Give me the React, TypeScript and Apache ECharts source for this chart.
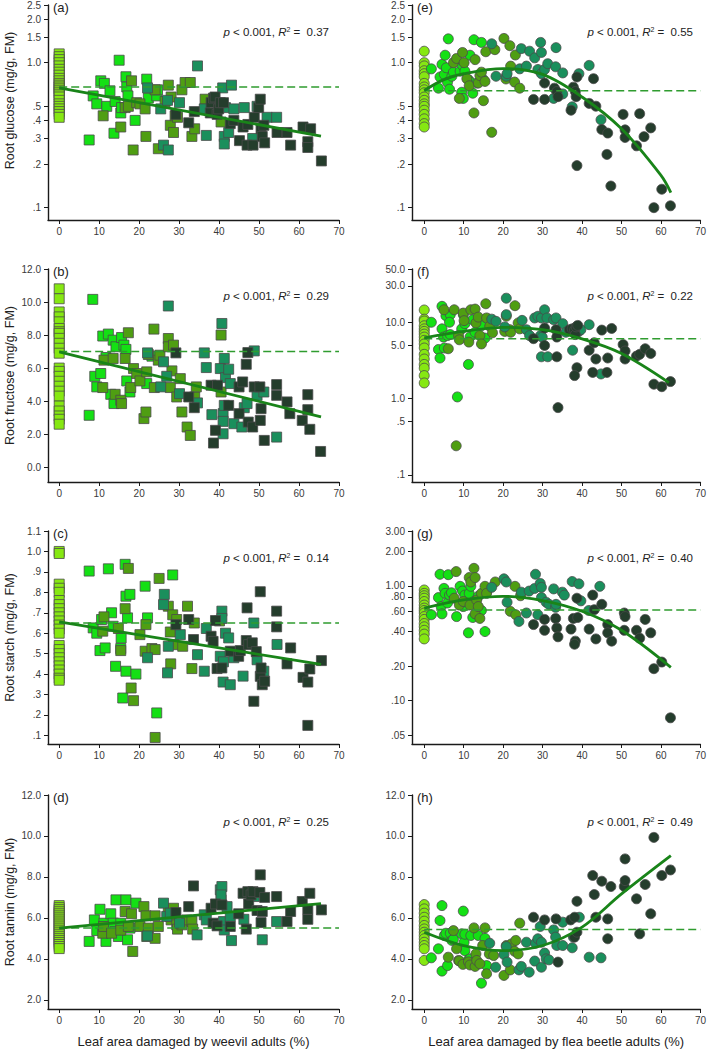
import React, { useEffect, useRef } from 'react';
import * as echarts from 'echarts';

// ---------- tick definitions ----------
const xTicks = [0, 10, 20, 30, 40, 50, 60, 70];
const glucoseTicks = [0.1, 0.2, 0.3, 0.4, 0.5, 1.0, 1.5, 2.0, 2.5];
const glucoseLabels = ['.1', '.2', '.3', '.4', '.5', '1.0', '1.5', '2.0', '2.5'];
const fructoseWTicks = [0, 2, 4, 6, 8, 10, 12];
const fructoseWLabels = ['0.0', '2.0', '4.0', '6.0', '8.0', '10.0', '12.0'];
const fructoseFTicks = [0.1, 0.5, 1, 5, 10, 30, 50];
const fructoseFLabels = ['.1', '.5', '1.0', '5.0', '10.0', '30.0', '50.0'];
const starchWTicks = [0.1, 0.2, 0.3, 0.4, 0.5, 0.6, 0.7, 0.8, 0.9, 1.0, 1.1];
const starchWLabels = ['.1', '.2', '.3', '.4', '.5', '.6', '.7', '.8', '.9', '1.0', '1.1'];
const starchFTicks = [0.05, 0.1, 0.2, 0.4, 0.6, 0.8, 1, 2, 3];
const starchFLabels = ['.05', '.10', '.20', '.40', '.60', '.80', '1.00', '2.00', '3.00'];
const tanninTicks = [2, 4, 6, 8, 10, 12];
const tanninLabels = ['2.0', '4.0', '6.0', '8.0', '10.0', '12.0'];

// ---------- data: controls at x = 0 ----------
const glucoseW0 = [1.15, 1.1, 1.05, 1.0, 0.95, 0.9, 0.86, 0.82, 0.78, 0.75, 0.72, 0.7, 0.68, 0.66, 0.64, 0.62, 0.6, 0.58, 0.55, 0.52, 0.5, 0.48, 0.46, 0.44, 0.42];
const fructoseW0 = [10.8, 10.2, 9.4, 9.1, 8.8, 8.4, 8.2, 8.1, 7.8, 7.5, 7.2, 6.9, 6.0, 5.8, 5.5, 5.2, 4.9, 4.6, 4.3, 3.7, 3.4, 3.1, 2.9, 2.6];
const starchW0 = [1.0, 0.99, 0.84, 0.82, 0.8, 0.76, 0.74, 0.72, 0.7, 0.68, 0.66, 0.64, 0.62, 0.6, 0.54, 0.52, 0.5, 0.48, 0.46, 0.44, 0.42, 0.4, 0.38, 0.37];
const tanninW0 = [6.6, 6.5, 6.4, 6.3, 6.2, 6.1, 6.0, 5.9, 5.8, 5.7, 5.6, 5.5, 5.4, 5.3, 5.2, 5.1, 5.0, 4.9, 4.8, 4.7, 4.6, 4.5];
const glucoseF0 = [1.2, 1.0, 0.95, 0.88, 0.84, 0.8, 0.72, 0.68, 0.65, 0.62, 0.58, 0.55, 0.52, 0.5, 0.47, 0.44, 0.41, 0.38, 0.36];
const fructoseF0 = [14.5, 11.0, 10.4, 9.0, 8.2, 7.6, 7.0, 6.4, 5.8, 5.2, 4.6, 3.8, 3.3, 2.8, 2.5, 2.0, 1.6];
const starchF0 = [0.92, 0.86, 0.82, 0.78, 0.73, 0.68, 0.64, 0.61, 0.58, 0.54, 0.51, 0.47, 0.44, 0.41, 0.38, 0.345];
const tanninF0 = [6.65, 6.44, 6.23, 6.03, 5.84, 5.63, 5.46, 5.3, 5.14, 4.98, 4.81, 4.65, 4.49, 3.92];

// ---------- data: damaged plants [x, y, colour group] ----------
const glucoseW = [
  [7.5,0.293,1],[8.5,0.59,1],[9.4,0.52,1],[10.4,0.75,1],[11.3,0.72,1],[11.9,0.50,1],[12.7,0.64,1],[13.7,0.326,1],[14,0.54,1],[15,1.04,1],[15.4,0.45,1],[15.6,0.49,1],[16.7,0.80,1],[16.9,0.68,1],[17.2,0.59,1],[19,0.40,1],[21.9,0.77,1],[22.3,0.57,1],[24.4,0.59,1],[24.6,0.65,1],
  [11,0.43,2],[15.4,0.36,2],[16.5,0.49,2],[17.3,0.50,2],[18.1,0.75,2],[18.5,0.25,2],[19.4,0.53,2],[20.2,0.52,2],[21.5,0.48,2],[21.7,0.31,2],[24,0.65,2],[24.8,0.255,2],[26.5,0.54,2],[27.3,0.70,2],[27.8,0.37,2],[28,0.58,2],[28.6,0.33,2],[29,0.43,2],[29.6,0.42,2],[30.7,0.65,2],[31.5,0.73,2],[32.8,0.73,2],[33.2,0.31,2],[33.9,0.35,2],[36.5,0.56,2],[40.5,0.39,2],
  [22.1,0.67,3],[25.4,0.48,3],[26.1,0.27,3],[27.1,0.55,3],[27.3,0.25,3],[30.1,0.53,3],[34.6,0.95,3],[36.3,0.48,3],[36.8,0.315,3],[40.9,0.67,3],[41.3,0.31,3],[41.3,0.275,3],[41.6,0.49,3],[42.4,0.33,3],[43.1,0.70,3],[43.7,0.48,3],[46.3,0.49,3],[48.4,0.30,3],[49.5,0.50,3],[52,0.42,3],[54.4,0.42,3],
  [29.2,0.44,4],[32.4,0.385,4],[33.8,0.46,4],[38,0.53,4],[38.6,0.57,4],[39,0.58,4],[37.8,0.45,4],[39.5,0.44,4],[39.9,0.48,4],[40.3,0.53,4],[41.1,0.53,4],[42.8,0.38,4],[43.7,0.40,4],[45.1,0.29,4],[46,0.36,4],[47,0.27,4],[47.2,0.375,4],[48.5,0.27,4],[48.8,0.42,4],[49.9,0.49,4],[50.3,0.56,4],[50.5,0.35,4],[50.8,0.31,4],[51.2,0.37,4],[51.4,0.28,4],[54.5,0.33,4],[57,0.33,4],[57.9,0.27,4],[61,0.36,4],[62.2,0.285,4],[62.2,0.26,4],[62.9,0.35,4],[65.6,0.21,4],
];
const fructoseW = [
  [8.4,10.16,1],[7.5,3.14,1],[8.9,5.5,1],[9.4,4.86,1],[10.4,5.67,1],[10.9,7.94,1],[11.7,6.64,1],[12.3,8.06,1],[12.9,4.41,1],[13.7,3.85,1],[13.5,7.69,1],[14.2,7.29,1],[15.6,7.85,1],[16.2,7.39,1],[16.7,7.13,1],[16.9,5.22,1],[17.7,4.55,1],[21.9,5.06,1],[23.2,6.72,1],
  [10.9,4.82,2],[11.2,6.48,2],[13.5,6.58,2],[14,4.41,2],[15.4,4.05,2],[15.6,3.85,2],[16.5,6.58,2],[17.3,8.14,2],[17.9,4.82,2],[18.6,5.97,2],[19.4,5.67,2],[20.2,5.22,2],[21.2,2.94,2],[21.7,3.34,2],[21.9,5.77,2],[22.3,6.82,2],[23.7,8.36,2],[23.8,4.82,2],[24.8,6.48,2],[25.2,6.78,2],[27.3,7.79,2],[27.3,7.29,2],[27.8,4.82,2],[28.2,5.83,2],[28.6,7.39,2],[29.4,4.25,2],[30.3,5.36,2],[30.7,3.34,2],[32,2.43,2],[32.8,1.92,2],[33.9,4.25,2],[34.3,4.86,2],[40.5,4.55,2],[40.5,8.0,2],
  [22.1,6.92,3],[25.4,4.86,3],[26.1,6.38,3],[26.9,5.5,3],[27.3,9.76,3],[30.1,4.45,3],[34.6,3.89,3],[36.3,6.92,3],[36.8,6.03,3],[38.2,3.18,3],[40.3,5.97,3],[40.7,8.7,3],[41,3.24,3],[41,2.77,3],[41,2.02,3],[41.3,6.58,3],[41.3,3.74,3],[41.6,5.42,3],[42.4,5.93,3],[42.8,5.06,3],[43.7,2.63,3],[45.7,2.43,3],[46.3,3.6,3],[47,3.85,3],[48.8,7.04,3],[49.5,4.35,3],[51.2,4.55,3],[54.4,1.82,3],
  [29.2,6.92,4],[32.4,4.25,4],[33.8,3.6,4],[38,4.96,4],[38.6,1.46,4],[39.1,2.23,4],[39.6,4.96,4],[42.4,3.74,4],[45,4.86,4],[45,3.24,4],[45.9,5.16,4],[46.8,6.23,4],[47.2,6.94,4],[47.3,2.73,4],[48.4,2.43,4],[48.8,4.86,4],[50.2,4.86,4],[50.3,2.83,4],[50.5,3.54,4],[51.3,1.62,4],[54.4,5.0,4],[54.4,4.35,4],[57,3.95,4],[57.7,3.24,4],[60.8,2.83,4],[62.2,4.39,4],[62.2,3.48,4],[62.7,2.29,4],[65.4,0.95,4],
];
const starchW = [
  [7.5,0.904,1],[8.5,0.626,1],[9.4,0.60,1],[10.2,0.515,1],[10.6,0.667,1],[11.5,0.528,1],[12.3,0.915,1],[13.1,0.70,1],[13.5,0.634,1],[14.1,0.438,1],[15.4,0.525,1],[15.5,0.577,1],[15.9,0.283,1],[16.5,0.937,1],[16.7,0.781,1],[16.7,0.414,1],[17.1,0.675,1],[17.7,0.79,1],[19.2,0.40,1],[21.5,0.83,1],[22.1,0.675,1],[24.4,0.21,1],[28.4,0.885,1],
  [10.9,0.61,2],[11.2,0.68,2],[14.8,0.623,2],[15.4,0.515,2],[16.5,0.72,2],[17.3,0.917,2],[18,0.332,2],[18.6,0.27,2],[20.2,0.593,2],[21.5,0.512,2],[21.7,0.642,2],[23.2,0.525,2],[24,0.52,2],[24,0.09,2],[25,0.868,2],[27.3,0.732,2],[27.8,0.606,2],[27.9,0.45,2],[28.4,0.69,2],[28.6,0.544,2],[29.4,0.667,2],[30.9,0.536,2],[32.1,0.732,2],[33.2,0.427,2],[33.8,0.65,2],[40.1,0.66,2],
  [22.1,0.48,3],[26.1,0.74,3],[26.3,0.79,3],[27.1,0.406,3],[27.3,0.536,3],[30.3,0.593,3],[34.6,0.495,3],[36.3,0.414,3],[36.8,0.623,3],[40.3,0.487,3],[40.7,0.708,3],[40.7,0.672,3],[41,0.361,3],[41.1,0.46,3],[41.6,0.60,3],[42.4,0.577,3],[42.8,0.348,3],[43.7,0.48,3],[46,0.39,3],[48.7,0.65,3],[49.5,0.47,3],[51.2,0.414,3],[54.5,0.545,3],
  [29.2,0.642,4],[32.4,0.667,4],[33.6,0.569,4],[38,0.585,4],[38.5,0.56,4],[39.1,0.662,4],[39.5,0.427,4],[40.7,0.43,4],[42.8,0.512,4],[44.9,0.487,4],[45.3,0.515,4],[47,0.724,4],[46.8,0.564,4],[47.4,0.544,4],[48.3,0.553,4],[48.7,0.267,4],[49.3,0.51,4],[50.3,0.803,4],[50.3,0.389,4],[50.5,0.43,4],[50.8,0.348,4],[51.4,0.365,4],[54.4,0.708,4],[54.4,0.631,4],[57,0.45,4],[57.9,0.528,4],[61,0.384,4],[62.2,0.361,4],[62.2,0.149,4],[62.7,0.425,4],[65.6,0.466,4],
];
const tanninW = [
  [7.5,4.85,1],[8.8,5.9,1],[9.4,5.38,1],[10.2,6.42,1],[11.2,5.74,1],[11.7,4.85,1],[12.9,6.2,1],[13.5,5.74,1],[14.2,6.88,1],[14,5.33,1],[14.8,5.09,1],[15.4,5.74,1],[16.7,6.88,1],[17.1,4.93,1],[17.7,5.5,1],[19.2,6.72,1],[21.9,5.09,1],
  [10.9,5.25,2],[11.1,5.58,2],[13.1,5.25,2],[15.4,5.4,2],[16.5,6.31,2],[17.3,5.58,2],[18.4,4.36,2],[18.1,6.2,2],[20.2,5.58,2],[21.2,6.55,2],[21.7,6.1,2],[22.3,5.5,2],[24,6.1,2],[24,5.0,2],[24.8,5.58,2],[27.3,6.39,2],[27.8,6.07,2],[28,5.9,2],[28.6,6.47,2],[29.4,5.66,2],[29.6,5.45,2],[30.7,5.66,2],[31.9,5.9,2],[33.2,5.82,2],[33.4,5.45,2],[40.5,6.88,2],
  [22.1,5.12,3],[26.1,6.72,3],[26.9,6.07,3],[27.8,6.23,3],[30.1,5.74,3],[34.5,5.17,3],[36.3,6.15,3],[36.8,5.9,3],[40.3,7.37,3],[40.7,7.53,3],[40.5,7.12,3],[41.1,5.82,3],[41.3,5.41,3],[42,6.55,3],[42.8,6.07,3],[43.1,4.89,3],[46.2,5.93,3],[48.8,7.04,3],[50.8,4.93,3],[54.4,5.82,3],
  [29.2,6.26,4],[32.4,6.55,4],[33.6,7.56,4],[38,6.47,4],[38.5,5.74,4],[39.1,6.68,4],[39.5,5.61,4],[40.7,6.63,4],[42.8,5.58,4],[44.9,6.2,4],[46,7.2,4],[46.8,5.45,4],[47.4,6.68,4],[47.2,7.28,4],[48,7.12,4],[48.5,7.28,4],[49.5,6.36,4],[50.3,8.1,4],[50.2,7.24,4],[50.5,5.77,4],[50.8,6.31,4],[51.4,7.0,4],[54.4,7.04,4],[57,5.82,4],[57.9,6.31,4],[60.8,6.8,4],[62.2,5.93,4],[62.2,6.42,4],[62.7,7.2,4],[65.6,6.39,4],
];
const glucoseF = [
  [1.8,0.907,1],[3.6,0.667,1],[4,0.797,1],[4.5,0.973,1],[5.1,0.83,1],[5.3,1.126,1],[5.6,0.922,1],[5.9,0.732,1],[6.1,1.46,1],[6.4,0.656,1],[7,0.806,1],[7.4,0.86,1],[9.1,0.874,1],[9.7,0.958,1],[9.5,0.625,1],[9.9,0.567,1],[10.3,0.874,1],[11.2,0.764,1],[11.6,1.126,1],[11.8,0.732,1],[12.3,0.616,1],[12.6,1.44,1],[13.4,0.724,1],[14.5,1.38,1],[15,0.764,1],
  [7.4,1.0,2],[8.2,1.07,2],[8.9,0.567,2],[9.7,1.176,2],[10.1,1.0,2],[10.8,0.776,2],[11.4,0.693,2],[12.6,0.45,2],[12.9,1.05,2],[13.7,0.724,2],[14.1,0.815,2],[14.5,0.86,2],[15,0.547,2],[15.4,0.743,2],[15.6,1.19,2],[17.1,0.331,2],[17.9,1.23,2],[20.2,1.47,2],[20.7,0.772,2],[21.7,1.31,2],[21.9,0.947,2],[23.1,1.13,2],[22.9,0.735,2],[24.2,0.667,2],
  [17.1,1.35,3],[18.2,0.806,3],[20.8,0.806,3],[21,0.84,3],[24.2,0.907,3],[24.6,1.25,3],[25.9,0.947,3],[26.7,1.2,3],[28,1.08,3],[28.8,0.898,3],[29.5,1.38,3],[29.7,1.176,3],[29.7,0.84,3],[30.5,0.898,3],[31.3,0.984,3],[32.8,0.567,3],[33.3,0.937,3],[33.4,1.27,3],[35.1,0.85,3],[35.1,0.609,3],[37.5,0.496,3],[39.2,0.84,3],[41.8,0.958,3],[44.8,0.404,3],
  [27.7,0.558,4],[30.5,0.724,4],[30.5,0.558,4],[33,0.667,4],[33.6,0.632,4],[33.9,0.583,4],[37.2,0.47,4],[37.8,0.678,4],[38.3,0.632,4],[38.5,0.583,4],[38.7,0.797,4],[38.7,0.195,4],[41.8,0.524,4],[42.9,0.776,4],[43.5,0.501,4],[45,0.346,4],[46.5,0.327,4],[46.3,0.233,4],[47.3,0.141,4],[50.4,0.44,4],[50.9,0.344,4],[50.9,0.305,4],[53.8,0.267,4],[54.6,0.445,4],[55.7,0.309,4],[57.4,0.355,4],[58.2,0.1,4],[60.2,0.134,4],[62.4,0.103,4],
];
const fructoseF = [
  [1.8,10.0,1],[3.6,4.4,1],[4,3.4,1],[4.5,16.2,1],[4.5,8.2,1],[4.9,6.4,1],[5.1,4.6,1],[5.5,12.2,1],[5.9,6.7,1],[6.6,12.6,1],[6.4,10,1],[6.6,6.9,1],[8.4,1.05,1],[9.5,8.2,1],[9.9,12.6,1],[10.3,9.6,1],[11.2,2.8,1],[11.6,6.4,1],[12.3,10.8,1],[12.9,7.4,1],[13.7,10,1],[14.5,9.0,1],[15.4,6.2,1],
  [5,14.6,2],[6.1,4.5,2],[7.6,14.6,2],[8.7,6.7,2],[8.9,5.9,2],[9.9,13.2,2],[10.1,10.5,2],[11.3,5.5,2],[11.8,14.6,2],[12.9,14.9,2],[13.1,9.8,2],[13.7,11.7,2],[14.1,6.7,2],[14.5,5.2,2],[15.6,17.5,2],[15.8,11.4,2],[16.6,8.9,2],[17.3,7.3,2],[20.4,7.6,2],[20.8,12,2],[21.7,8.0,2],[21.9,7.4,2],[23,16.5,2],[23.8,9.8,2],[24.2,8.2,2],[8.1,0.24,2],
  [17.1,11.0,3],[18.2,10.3,3],[20.4,8.7,3],[20.8,20.7,3],[20.8,12.6,3],[24.8,10.6,3],[25.9,8.0,3],[26.7,6.7,3],[28,11.4,3],[28.8,12.0,3],[29.5,6.7,3],[29.7,11.4,3],[29.9,6.4,3],[30.5,14.6,3],[31.1,11.4,3],[32.8,10.8,3],[33.4,11.4,3],[35.1,9.6,3],[35.9,7.4,3],[37.6,4.3,3],[39.2,7.6,3],[39.7,8.0,3],[41.8,9.3,3],[44.8,2.1,3],[29.7,3.53,3],[31.3,3.53,3],
  [27.7,6.1,4],[30.5,8.4,4],[30.5,4.96,4],[33.6,3.53,4],[33.4,8.0,4],[33.6,6.4,4],[33.9,0.76,4],[36.8,8.0,4],[37.5,8.2,4],[38.1,7.9,4],[38.3,6.9,4],[38.5,8.7,4],[38.7,2.54,4],[38.9,9.1,4],[38.1,2.0,4],[41.8,4.3,4],[43.1,5.4,4],[43.5,3.3,4],[42.7,2.2,4],[45,7.9,4],[46.3,2.2,4],[46.5,3.4,4],[47.5,8.3,4],[50.4,5.1,4],[50.9,4.2,4],[50.9,3.3,4],[53.8,3.6,4],[54.6,3.8,4],[56,4.5,4],[57.4,3.9,4],[58.2,1.54,4],[60.2,1.43,4],[62.4,1.67,4],
];
const starchF = [
  [1.8,0.56,1],[3.6,0.79,1],[4,1.26,1],[4.3,0.66,1],[4.5,0.57,1],[5.0,0.95,1],[5.3,0.86,1],[5.9,0.71,1],[6.1,1.25,1],[6.4,0.83,1],[6.9,0.87,1],[8.2,0.54,1],[9.1,0.99,1],[9.7,0.90,1],[9.9,0.66,1],[10.3,0.83,1],[11.2,0.39,1],[11.4,0.86,1],[11.8,0.99,1],[12.3,0.53,1],[12.6,0.73,1],[13.7,0.81,1],[14.5,0.61,1],[15.4,0.40,1],[15.8,0.88,1],
  [7.6,0.78,2],[8.1,1.33,2],[8.9,0.68,2],[9.9,0.73,2],[11.4,1.18,2],[11.6,0.68,2],[11.8,1.08,2],[12.6,1.42,2],[12.9,1.18,2],[12.9,0.57,2],[13.3,0.75,2],[13.7,0.66,2],[14.1,0.52,2],[14.5,0.86,2],[15.4,0.99,2],[15.8,0.86,2],[18,1.08,2],[21.8,0.6,2],[23,0.99,2],[23.2,0.56,2],[24.4,0.82,2],
  [17.1,0.97,3],[20.2,1.15,3],[20.8,1.08,3],[21,0.72,3],[24,0.49,3],[24.6,0.88,3],[25.9,0.58,3],[26.6,0.90,3],[28,0.95,3],[28.2,1.26,3],[28.8,0.56,3],[29.4,1.05,3],[29.7,0.97,3],[29.7,0.79,3],[30.9,0.72,3],[31.6,0.69,3],[32.8,0.94,3],[33.3,0.65,3],[33.4,0.69,3],[35,0.88,3],[35.5,0.83,3],[37.5,1.09,3],[39.2,1.04,3],[39.7,0.74,3],[41.7,0.61,3],[44.5,0.99,3],
  [27.7,0.46,4],[30.5,0.51,4],[30.5,0.41,4],[33.3,0.52,4],[33.6,0.43,4],[33.9,0.36,4],[37.2,0.42,4],[37.8,0.52,4],[38.3,0.33,4],[38.1,0.31,4],[38.7,0.78,4],[38.9,0.53,4],[41.8,0.42,4],[42.7,0.83,4],[43.1,0.62,4],[43.5,0.345,4],[45,0.69,4],[46.5,0.46,4],[46.5,0.39,4],[47.5,0.33,4],[50.7,0.58,4],[50.9,0.54,4],[50.7,0.41,4],[53.8,0.41,4],[54.6,0.35,4],[56,0.51,4],[57.4,0.39,4],[58.2,0.19,4],[60.2,0.217,4],[62.4,0.071,4],
];
const tanninF = [
  [1.8,4.05,1],[3.6,4.49,1],[4,5.87,1],[4.5,6.6,1],[4.5,3.4,1],[5.1,5.14,1],[5.5,5.25,1],[5.9,3.67,1],[6.6,5.25,1],[7,4.9,1],[7.4,4.95,1],[9.5,5.22,1],[9.9,6.33,1],[10.1,4.81,1],[10.3,5.2,1],[10.3,4.4,1],[11.2,3.95,1],[11.6,4.0,1],[11.8,5.14,1],[12.9,3.9,1],[13.7,5.14,1],[14.5,2.81,1],[15.4,5.0,1],[15.8,3.67,1],
  [6.1,4.08,2],[7.4,5.38,2],[8.2,4.49,2],[8.7,3.92,2],[8.9,3.9,2],[9.8,3.73,2],[11.2,3.85,2],[11.6,3.7,2],[12.6,5.51,2],[12.9,3.63,2],[13.1,4.24,2],[13.3,3.92,2],[14.1,3.76,2],[14.8,4.65,2],[15.4,5.51,2],[15.8,3.27,2],[16.5,4.24,2],[17.6,4.16,2],[20.2,3.19,2],[20.8,4.65,2],[21.8,3.46,2],[22.1,4.73,2],[22.9,4.37,2],[23.2,4.9,2],[23.8,4.24,2],[24.2,5.74,2],
  [16.6,4.76,3],[18.1,3.59,3],[20.2,4.21,3],[20.8,4.6,3],[21,3.84,3],[24,3.46,3],[24.6,3.63,3],[25.9,4.81,3],[26.6,3.35,3],[28,3.89,3],[28.2,4.76,3],[28.8,4.98,3],[29.4,5.58,3],[29.7,4.81,3],[29.7,3.59,3],[30.5,4.28,3],[30.9,4.0,3],[31.6,3.95,3],[32.8,5.41,3],[33.3,5.06,3],[33.6,4.65,3],[35.1,5.79,3],[35.1,4.65,3],[37.5,4.54,3],[37.8,5.06,3],[39.3,6.03,3],[41.8,4.08,3],[44.8,4.05,3],
  [27.7,6.03,4],[30.5,5.9,4],[33.4,5.95,4],[33.9,3.84,4],[37.1,5.9,4],[38.1,6.03,4],[38.7,6.81,4],[38.1,5.06,4],[38.7,5.3,4],[42.7,8.07,4],[43.1,7.14,4],[43.5,6.03,4],[45,7.79,4],[46.5,4.98,4],[46.5,5.95,4],[47.3,7.53,4],[50.7,7.53,4],[50.9,8.88,4],[50.9,7.82,4],[53.8,6.93,4],[54.6,5.22,4],[56,7.63,4],[57.4,6.2,4],[58.2,9.93,4],[60.2,8.07,4],[62.4,8.34,4],
];

// ---------- fitted curves ----------
const glucoseWFit = [[0, 0.67], [65.5, 0.312]];
const fructoseWFit = [[0, 6.98], [65.5, 3.05]];
const starchWFit = [[0, 0.656], [65.5, 0.447]];
const tanninWFit = [[0, 5.5], [65.5, 6.7]];
const glucoseFFit = [[0, 0.643], [5, 0.764], [10, 0.84], [20, 0.91], [30, 0.83], [40, 0.58], [50, 0.35], [60, 0.167], [62.5, 0.127]];
const fructoseFFit = [[0, 6.25], [10, 7.6], [20, 8.6], [30, 8.0], [40, 6.07], [50, 3.9], [62, 1.62]];
const starchFFit = [[0, 0.64], [10, 0.755], [20, 0.81], [30, 0.745], [40, 0.6], [50, 0.41], [62.5, 0.195]];
const tanninFFit = [[0, 5.3], [10, 4.65], [20, 4.4], [30, 4.65], [40, 5.55], [50, 7.17], [62.5, 9.04]];

// control means (dashed lines)
const controlMeans = [0.68, 7.0, 0.65, 5.5, 0.64, 6.1, 0.615, 5.43];
const r2Values = ['0.37', '0.29', '0.14', '0.25', '0.55', '0.22', '0.40', '0.49'];
const panelLetters = ['(a)', '(b)', '(c)', '(d)', '(e)', '(f)', '(g)', '(h)'];
const yTitles = ['Root glucose (mg/g, FM)', 'Root fructose (mg/g, FM)', 'Root starch (mg/g, FM)', 'Root tannin (mg/g, FM)'];
const xTitles = ['Leaf area damaged by weevil adults (%)', 'Leaf area damaged by flea beetle adults (%)'];

const COLORS = ['#86e812', '#14e014', '#4f9e12', '#1a8f5c', '#243d2c'];
const FONT = '"Liberation Sans", Arial, Helvetica, sans-serif';

const panels = [
  { col: 0, row: 0, log: true, yMin: 0.0822, yMax: 2.5, ticks: glucoseTicks, labels: glucoseLabels, zero: glucoseW0, pts: glucoseW, fit: glucoseWFit, smooth: false },
  { col: 0, row: 1, log: false, yMin: -0.9, yMax: 12, ticks: fructoseWTicks, labels: fructoseWLabels, zero: fructoseW0, pts: fructoseW, fit: fructoseWFit, smooth: false },
  { col: 0, row: 2, log: false, yMin: 0.058, yMax: 1.1, ticks: starchWTicks, labels: starchWLabels, zero: starchW0, pts: starchW, fit: starchWFit, smooth: false },
  { col: 0, row: 3, log: false, yMin: 1.55, yMax: 12, ticks: tanninTicks, labels: tanninLabels, zero: tanninW0, pts: tanninW, fit: tanninWFit, smooth: false },
  { col: 1, row: 0, log: true, yMin: 0.0822, yMax: 2.5, ticks: glucoseTicks, labels: glucoseLabels, zero: glucoseF0, pts: glucoseF, fit: glucoseFFit, smooth: true },
  { col: 1, row: 1, log: true, yMin: 0.0804, yMax: 50, ticks: fructoseFTicks, labels: fructoseFLabels, zero: fructoseF0, pts: fructoseF, fit: fructoseFFit, smooth: true },
  { col: 1, row: 2, log: true, yMin: 0.042, yMax: 3, ticks: starchFTicks, labels: starchFLabels, zero: starchF0, pts: starchF, fit: starchFFit, smooth: true },
  { col: 1, row: 3, log: false, yMin: 1.55, yMax: 12, ticks: tanninTicks, labels: tanninLabels, zero: tanninF0, pts: tanninF, fit: tanninFFit, smooth: true },
];

const COL_LEFT = [48, 412];
const COL_W = [291, 290];
const COL_XMIN = [-2.8, -3.1];
const ROW_TOP = [5, 269, 531, 795];
const ROW_H = [215, 213, 213, 214];

function buildOption() {
  const grid: any[] = [];
  const xAxis: any[] = [];
  const yAxis: any[] = [];
  const series: any[] = [];
  const graphic: any[] = [];

  panels.forEach((p, i) => {
    const tf = (v: number) => (p.log ? Math.log10(v) : v);
    const left = COL_LEFT[p.col];
    const top = ROW_TOP[p.row];
    grid.push({ left, top, width: COL_W[p.col], height: ROW_H[p.row], containLabel: false });

    xAxis.push({
      type: 'value', gridIndex: i, min: COL_XMIN[p.col], max: 70,
      axisLine: { show: true, onZero: false, lineStyle: { color: '#1a1a1a', width: 1.4 } },
      axisTick: { show: true, customValues: xTicks, length: 4, lineStyle: { color: '#1a1a1a', width: 1 } },
      axisLabel: { customValues: xTicks, color: '#3a3a3a', fontSize: 10, margin: 6, fontFamily: FONT },
      splitLine: { show: false },
      name: p.row === 3 ? xTitles[p.col] : '',
      nameLocation: 'middle', nameGap: 26,
      nameTextStyle: { fontSize: 13, color: '#222', fontFamily: FONT },
    });

    const tv = p.ticks.map(tf);
    yAxis.push({
      type: 'value', gridIndex: i, min: tf(p.yMin), max: tf(p.yMax),
      axisLine: { show: true, onZero: false, lineStyle: { color: '#1a1a1a', width: 1.4 } },
      axisTick: { show: true, customValues: tv, length: 4, lineStyle: { color: '#1a1a1a', width: 1 } },
      axisLabel: {
        customValues: tv, color: '#3a3a3a', fontSize: 10, margin: 7, fontFamily: FONT,
        formatter: (v: number) => {
          const k = tv.findIndex((t) => Math.abs(t - v) < 1e-4);
          return k >= 0 ? p.labels[k] : '';
        },
      },
      splitLine: { show: false },
      name: p.col === 0 ? yTitles[p.row] : '',
      nameLocation: 'middle', nameGap: 32,
      nameTextStyle: { fontSize: 12.5, color: '#222', fontFamily: FONT, padding: p.row === 0 ? [0, 0, 0, 24] : 0 },
    });

    const symbol = p.col === 0 ? 'rect' : 'circle';
    for (let g = 0; g < 5; g++) {
      const data: number[][] = [];
      if (g === 0) p.zero.forEach((y) => data.push([0, tf(y)]));
      p.pts.forEach((d) => { if (d[2] === g) data.push([d[0], tf(d[1])]); });
      series.push({
        type: 'scatter', xAxisIndex: i, yAxisIndex: i, data, symbol, symbolSize: 10, silent: true,
        itemStyle: { color: COLORS[g], borderColor: '#4a4a4a', borderWidth: 0.8, opacity: 1 },
        z: 2,
      });
    }
    series.push({
      type: 'line', xAxisIndex: i, yAxisIndex: i, silent: true, symbol: 'none',
      data: [[0, tf(controlMeans[i])], [70, tf(controlMeans[i])]],
      lineStyle: { color: '#2f9c2f', width: 1.5, type: [8, 4] }, z: 3,
    });
    series.push({
      type: 'line', xAxisIndex: i, yAxisIndex: i, silent: true, symbol: 'none',
      smooth: p.smooth ? 0.35 : false,
      data: p.fit.map((d) => [d[0], tf(d[1])]),
      lineStyle: { color: '#198419', width: 2.8 }, z: 4,
    });

    graphic.push({
      type: 'text', x: left + 5, y: top - 4, silent: true,
      style: { text: panelLetters[i], fontSize: 13, fill: '#222', fontFamily: FONT, textVerticalAlign: 'top' },
    });
    graphic.push({
      type: 'text', x: left + 281, y: top + 27, silent: true,
      style: {
        text: '{i|p} < 0.001, {i|R}{s|2} =  ' + r2Values[i],
        align: 'right', verticalAlign: 'middle', fontSize: 11.5, fill: '#222', fontFamily: FONT,
        rich: {
          i: { fontStyle: 'italic', fontSize: 11.5, fontFamily: FONT, fill: '#222' },
          s: { fontSize: 7, verticalAlign: 'top', fontFamily: FONT, fill: '#222' },
        },
      },
    });
  });

  return {
    animation: false,
    backgroundColor: '#ffffff',
    textStyle: { fontFamily: FONT },
    grid, xAxis, yAxis, series, graphic,
  };
}

export default function App() {
  const ref = useRef<HTMLDivElement>(null);
  useEffect(() => {
    document.body.style.margin = '0';
    if (!ref.current) return;
    const chart = echarts.init(ref.current, null, { renderer: 'svg' });
    chart.setOption(buildOption() as any);
    return () => chart.dispose();
  }, []);
  return <div ref={ref} style={{ width: 709, height: 1050 }} />;
}
